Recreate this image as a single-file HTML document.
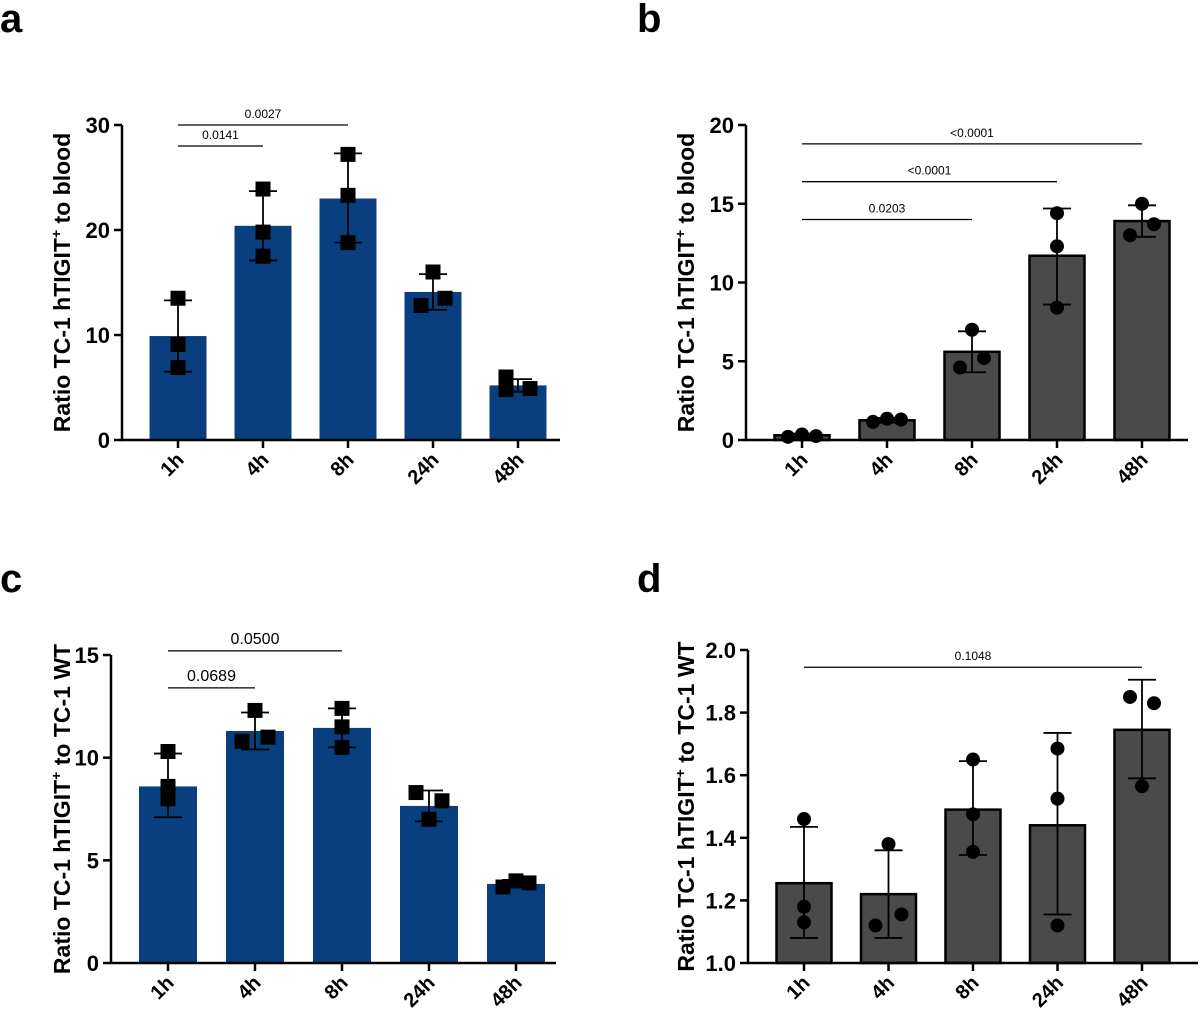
<!DOCTYPE html>
<html><head><meta charset="utf-8"><style>
body{margin:0;background:#fff;}
svg{display:block;font-family:"Liberation Sans",Arial,sans-serif;}
</style></head><body>
<svg id="fig" width="1200" height="1012" viewBox="0 0 1200 1012">
<text x="0" y="32" font-size="40" font-weight="bold">a</text>
<text x="637" y="32" font-size="40" font-weight="bold">b</text>
<text x="0" y="592" font-size="40" font-weight="bold">c</text>
<text x="637" y="592" font-size="40" font-weight="bold">d</text>
</svg>
<script>
const categories=["1h","4h","8h","24h","48h"];
const meansA=[9.9,20.4,23.0,14.1,5.2];
const ptsA=[[13.5,9.1,6.9],[23.9,19.8,17.5],[27.2,23.3,18.8],[16.0,12.8,13.5],[6.0,4.8,4.9]];
const errLoA=[6.5,17.1,18.8,12.4,4.6];
const errHiA=[13.3,23.7,27.3,15.8,5.8];
const ticksA=[0,10,20,30];
const sigA=[["0.0141",0,1,28.0],["0.0027",0,2,30.0]];

const meansB=[0.3,1.25,5.6,11.7,13.9];
const ptsB=[[0.2,0.35,0.25],[1.15,1.35,1.3],[7.0,4.6,5.2],[14.4,12.3,8.4],[15.0,13.0,13.7]];
const errLoB=[0.15,1.1,4.3,8.6,12.9];
const errHiB=[0.4,1.4,6.9,14.7,14.9];
const ticksB=[0,5,10,15,20];
const sigB=[["0.0203",0,2,14.0],["<0.0001",0,3,16.4],["<0.0001",0,4,18.8]];

const meansC=[8.6,11.3,11.45,7.65,3.85];
const ptsC=[[10.3,8.6,8.0],[12.3,10.8,11.0],[12.4,11.5,10.5],[8.3,7.9,7.0],[3.7,4.0,3.9]];
const errLoC=[7.1,10.4,10.5,6.9,3.7];
const errHiC=[10.2,12.2,12.4,8.4,4.05];
const ticksC=[0,5,10,15];
const sigC=[["0.0689",0,1,13.4],["0.0500",0,2,15.2]];

const meansD=[1.255,1.22,1.49,1.44,1.745];
const ptsD=[[1.46,1.18,1.13],[1.38,1.12,1.155],[1.65,1.475,1.355],[1.685,1.525,1.12],[1.85,1.83,1.565]];
const errLoD=[1.08,1.08,1.345,1.155,1.59];
const errHiD=[1.435,1.36,1.645,1.735,1.905];
const ticksD=["1.0","1.2","1.4","1.6","1.8","2.0"];
const sigD=[["0.1048",0,4,1.945]];

const jitA=[[0,0,0],[0,0,0],[0,0,0],[0,-12,12],[-12,-12,12]];
const jitB=[[-14,0,14],[-14,0,14],[0,-12,12],[0,0,0],[0,-12,12]];
const jitC=[[0,0,0],[0,-13,13],[0,0,0],[-13,13,0],[-13,0,13]];
const jitD=[[0,0,0],[0,-13,13],[0,0,0],[0,0,0],[-12,12,0]];
const NS="http://www.w3.org/2000/svg";
const svg=document.getElementById('fig');
function el(tag,attrs,parent){const e=document.createElementNS(NS,tag);for(const k in attrs)e.setAttribute(k,attrs[k]);(parent||svg).appendChild(e);return e;}

function panel(cfg){
  const g=el('g',{});
  
  
  const ymin=+cfg.ticks[0],ymax=+cfg.ticks[cfg.ticks.length-1];
  const yS=v=>cfg.y0-(v-ymin)/(ymax-ymin)*(cfg.y0-cfg.y1);
  const xS=i=>cfg.cx0+i*cfg.step;
  cfg.means.forEach((m,i)=>{
    const b=el('rect',{x:xS(i)-cfg.bw/2,y:yS(m),width:cfg.bw,height:yS(ymin)-yS(m),fill:cfg.fill,stroke:cfg.stroke,'stroke-width':cfg.stroke==='none'?0:2.5},g);
    
    
  });
  cfg.means.forEach((m,i)=>{
    const x=xS(i);
    const e=el('path',{d:`M${x} ${yS(cfg.lo[i])}V${yS(cfg.hi[i])}M${x-14} ${yS(cfg.hi[i])}H${x+14}M${x-14} ${yS(cfg.lo[i])}H${x+14}`,stroke:'#000','stroke-width':1.8,fill:'none'},g);
    
    
  });
  cfg.pts.forEach((arr,i)=>arr.forEach((v,j)=>{
    const x=xS(i)+cfg.jit[i][j],y=yS(v);
    let p;
    if(cfg.marker==='square') p=el('rect',{x:x-7.5,y:y-7.5,width:15,height:15,fill:'#000'},g);
    else p=el('circle',{cx:x,cy:y,r:7,fill:'#000'},g);
    
    
  }));
  const ax=el('path',{d:`M${cfg.ax} ${cfg.y1}V${cfg.y0}H${cfg.axEnd}`,stroke:'#000','stroke-width':2.5,fill:'none'},g);
  
  
  cfg.ticks.forEach(t=>{
    const y=yS(+t);
    el('line',{x1:cfg.ax-8,x2:cfg.ax,y1:y,y2:y,stroke:'#000','stroke-width':2.5},g);
    const tx=el('text',{x:cfg.ax-12,y:y+8,'text-anchor':'end','font-size':22,'font-weight':'bold'},g);
    tx.textContent=t;
    
    
  });
  categories.forEach((c,i)=>{
    const x=xS(i);
    el('line',{x1:x,x2:x,y1:cfg.y0,y2:cfg.y0+8,stroke:'#000','stroke-width':2.5},g);
    const tx=el('text',{x:x+7,y:cfg.y0+21,'text-anchor':'end','font-size':20,'font-weight':'bold',transform:`rotate(-45 ${x+7} ${cfg.y0+21})`},g);
    tx.textContent=c;
    
    
  });
  const yt=el('text',{x:0,y:0,'text-anchor':'middle','font-size':23,'font-weight':'bold',transform:`translate(${cfg.ytx},${(cfg.y0+cfg.y1)/2}) rotate(-90)`},g);
  yt.innerHTML=cfg.ytitle;
  
  
  cfg.sig.forEach(s=>{
    const y=yS(s[3]),xa=xS(s[1]),xb=xS(s[2]);
    el('line',{x1:xa,x2:xb,y1:y,y2:y,stroke:'#000','stroke-width':1.3},g);
    const tx=el('text',{x:(xa+xb)/2,y:y-7,'text-anchor':'middle','font-size':cfg.sigFont},g);
    tx.textContent=s[0];
    
    
  });
}
const blood='Ratio TC-1 hTIGIT<tspan dy="-9" font-size="14">+</tspan><tspan dy="9"> to blood</tspan>';
const wt='Ratio TC-1 hTIGIT<tspan dy="-9" font-size="14">+</tspan><tspan dy="9"> to TC-1 WT</tspan>';
panel({name:'panel-a',means:meansA,pts:ptsA,lo:errLoA,hi:errHiA,ticks:ticksA,sig:sigA,jit:jitA,y0:440,y1:125,cx0:178,step:85,bw:57,ax:122,axEnd:560,fill:'#0a3f7f',stroke:'none',marker:'square',ytx:70,ytitle:blood,sigFont:12});
panel({name:'panel-b',means:meansB,pts:ptsB,lo:errLoB,hi:errHiB,ticks:ticksB,sig:sigB,jit:jitB,y0:440,y1:125,cx0:802,step:85,bw:55,ax:746,axEnd:1188,fill:'#4a4a4a',stroke:'#000',marker:'circle',ytx:694,ytitle:blood,sigFont:12});
panel({name:'panel-c',means:meansC,pts:ptsC,lo:errLoC,hi:errHiC,ticks:ticksC,sig:sigC,jit:jitC,y0:963,y1:655,cx0:168,step:87,bw:58,ax:111,axEnd:556,fill:'#0a3f7f',stroke:'none',marker:'square',ytx:70,ytitle:wt,sigFont:16});
panel({name:'panel-d',means:meansD,pts:ptsD,lo:errLoD,hi:errHiD,ticks:ticksD,sig:sigD,jit:jitD,y0:963,y1:650,cx0:804,step:84.5,bw:55,ax:748,axEnd:1198,fill:'#4a4a4a',stroke:'#000',marker:'circle',ytx:694,ytitle:wt,sigFont:12});
</script>
</body></html>
